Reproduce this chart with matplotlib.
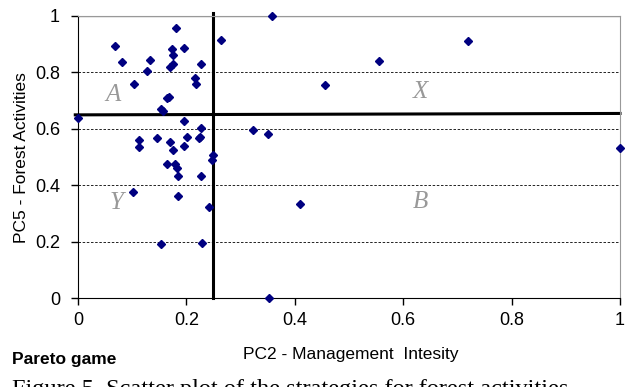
import matplotlib.pyplot as plt
import numpy as np

# PC2 (management intensity) vs PC5 (forest activities) scores
pc2 = [0.358, 0.000, 0.068, 0.082, 0.180, 0.173, 0.176, 0.196, 0.132, 0.128,
       0.170, 0.176, 0.227, 0.264, 0.103, 0.216, 0.217, 0.167, 0.164, 0.153,
       0.156, 0.196, 0.227, 0.225, 0.201, 0.146, 0.112, 0.112, 0.170, 0.175,
       0.196, 0.224, 0.250, 0.719, 0.556, 0.456, 0.323, 0.351, 1.000, 0.248,
       0.164, 0.179, 0.183, 0.185, 0.227, 0.101, 0.185, 0.242, 0.153, 0.229,
       0.353, 0.410]
pc5 = [1.000, 0.638, 0.894, 0.836, 0.956, 0.883, 0.862, 0.888, 0.844, 0.806,
       0.821, 0.829, 0.829, 0.915, 0.760, 0.782, 0.759, 0.714, 0.711, 0.670,
       0.664, 0.628, 0.602, 0.573, 0.573, 0.569, 0.561, 0.537, 0.555, 0.526,
       0.541, 0.569, 0.508, 0.913, 0.841, 0.756, 0.596, 0.582, 0.532, 0.490,
       0.475, 0.475, 0.461, 0.435, 0.435, 0.376, 0.363, 0.325, 0.193, 0.198,
       0.000, 0.333]

ticks = [0, 0.2, 0.4, 0.6, 0.8, 1]
tick_labels = ['0', '0.2', '0.4', '0.6', '0.8', '1']
x_split = 0.25
y_split = (0.65, 0.655)
quadrants = {'A': (0.065, 0.72), 'X': (0.631, 0.732), 'Y': (0.071, 0.337), 'B': (0.631, 0.343)}

plt.rcParams['font.family'] = ['Liberation Sans', 'DejaVu Sans']

fig = plt.figure(figsize=(6.26, 3.87), dpi=100)
ax = fig.add_axes([0.1246, 0.2287, 0.8658, 0.73])

for g in ticks[1:-1]:
    ax.axhline(g, color='black', lw=0.6, ls=(0, (3, 2)), zorder=1)
ax.axhline(1, color='#999999', lw=1, zorder=1)

ax.plot([x_split, x_split], [0, 1.01], color='black', lw=2.2, clip_on=False, zorder=2)
ax.plot([-0.005, 1], list(y_split), color='black', lw=2.2, clip_on=False, zorder=2)

ax.plot(pc2, pc5, 'D', color='#000080', ms=4.2, clip_on=False, zorder=3)

for lab, (x, y) in quadrants.items():
    ax.text(x, y, lab, fontsize=18, style='italic', color='#999999',
            family='Liberation Serif', ha='center', va='center')

ax.set_xlim(0, 1)
ax.set_ylim(0, 1)
ax.set_xticks(ticks)
ax.set_xticklabels(tick_labels)
ax.set_yticks(ticks)
ax.set_yticklabels(tick_labels)
ax.tick_params(direction='out', length=5, width=1, labelsize=13, colors='black')
ax.tick_params(axis='y', pad=8)
ax.tick_params(axis='x', pad=5)
for s in ['top', 'right']:
    ax.spines[s].set_color('#999999')
ax.spines['left'].set_color('black')
ax.spines['bottom'].set_color('black')

ax.set_ylabel('PC5 - Forest Activities', fontsize=12.5, labelpad=4)
fig.text(0.56, 0.085, 'PC2 - Management  Intesity', fontsize=12.5, ha='center', va='center')
fig.text(0.019, 0.07, 'Pareto game', fontsize=12.5, fontweight='bold', ha='left', va='center')
fig.text(0.019, -0.021, 'Figure 5. Scatter plot of the strategies for forest activities',
         fontsize=17.5, family='Liberation Serif', ha='left', va='baseline')

fig.savefig('out.png', dpi=100)
